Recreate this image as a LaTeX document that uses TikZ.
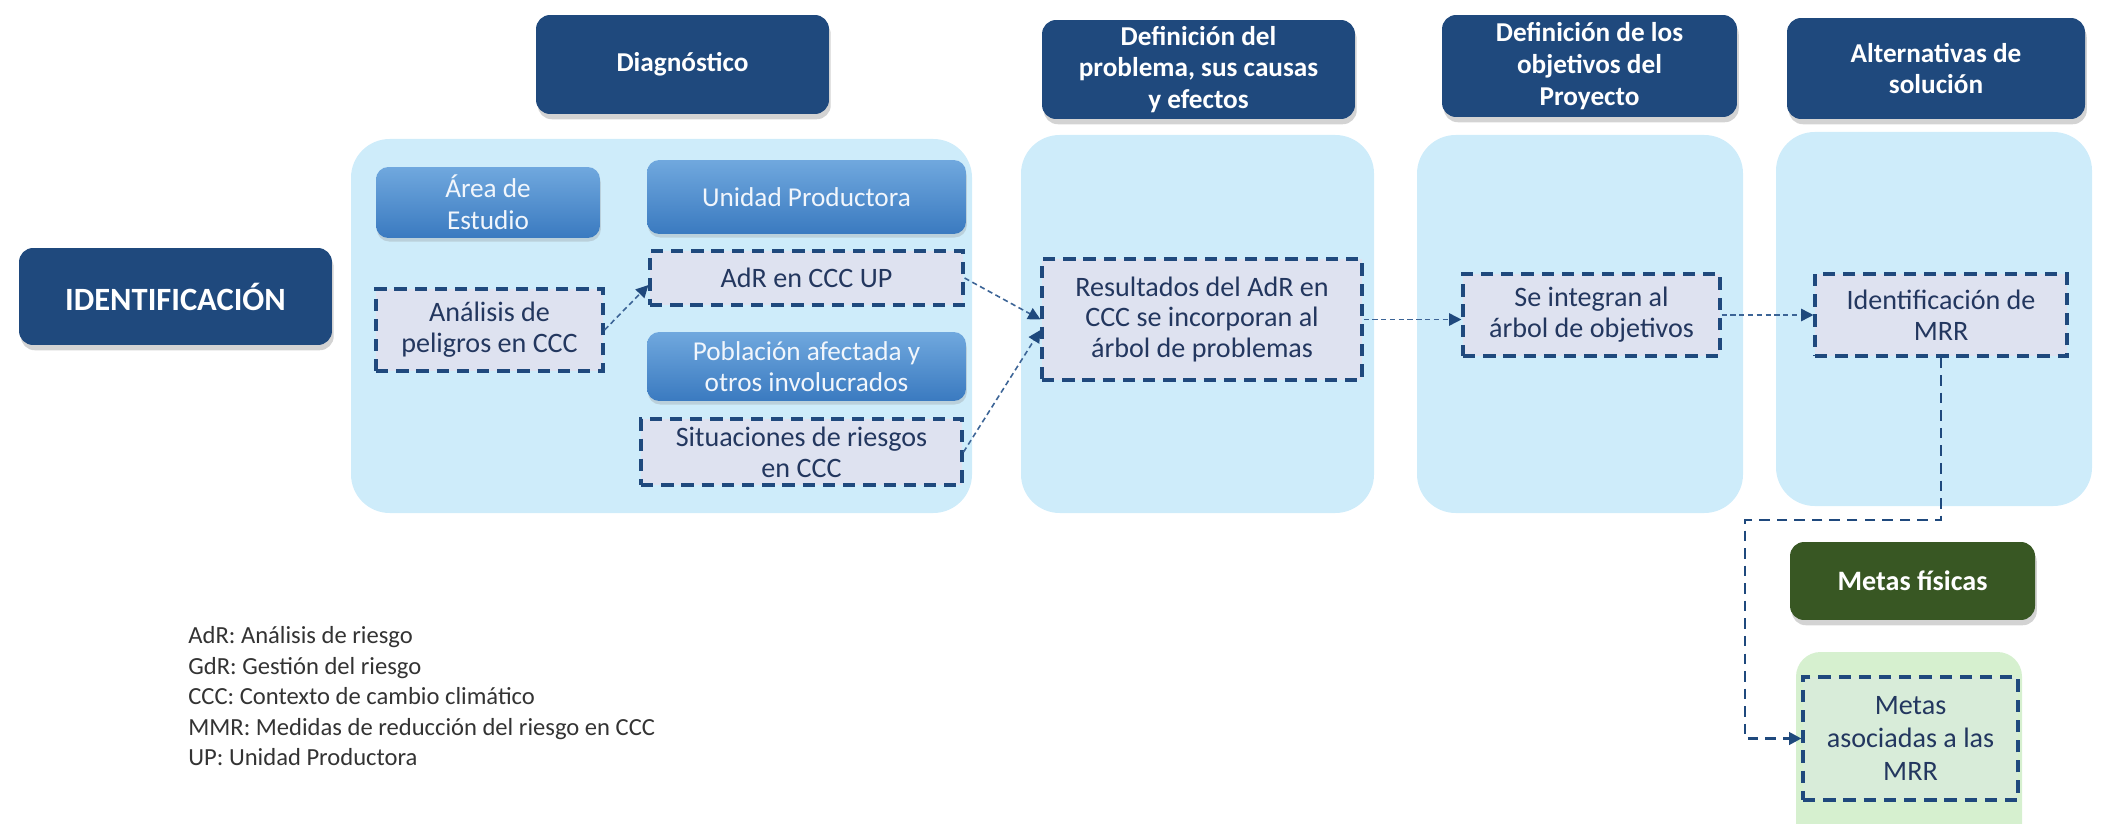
\documentclass[tikz,border=0pt]{standalone}
\usepackage{fontspec}
\setmainfont{Carlito}
\usetikzlibrary{arrows.meta,shadows}

\definecolor{navy}{RGB}{31,73,125}
\definecolor{navytext}{RGB}{35,55,95}
\definecolor{panelblue}{RGB}{206,236,250}
\definecolor{boxtop}{RGB}{112,168,222}
\definecolor{boxbot}{RGB}{58,122,192}
\definecolor{lavender}{RGB}{222,226,240}
\definecolor{linkblue}{RGB}{60,100,150}
\definecolor{darkgreen}{RGB}{56,87,35}
\definecolor{palegreen}{RGB}{214,240,207}

\tikzset{
  header/.style={fill=navy, rounded corners=8pt, text=white, align=center,
    font=\fontsize{15.5}{18}\selectfont\bfseries,
    drop shadow={shadow xshift=1pt, shadow yshift=-3pt, opacity=0.35}},
  unitbox/.style={top color=boxtop, bottom color=boxbot, rounded corners=7pt,
    text=white!90!boxtop, align=center, font=\fontsize{15.5}{18}\selectfont,
    drop shadow={shadow xshift=0.5pt, shadow yshift=-2pt, opacity=0.25}},
  dashbox/.style={draw=navy, fill=lavender, line width=1.8pt, dash pattern=on 7pt off 4.5pt,
    text=navytext, align=center, inner sep=0pt, font=\fontsize{16}{17.5}\selectfont},
  link/.style={draw=linkblue, line width=0.9pt, dash pattern=on 3pt off 2pt,
    -{Triangle[length=7pt,width=7pt,color=navy]}},
  longlink/.style={draw=navy, line width=1.6pt, dash pattern=on 6pt off 4pt,
    -{Triangle[length=7pt,width=7pt,color=navy]}}
}

\begin{document}
\begin{tikzpicture}[x=0.02cm,y=-0.02cm]
			%%%%% START %%%%%
			\useasboundingbox (0,0) rectangle (2101,824);
			\clip (0,0) rectangle (2101,824);
			
			% panels behind
			\fill[panelblue, rounded corners=22pt] (351,139) rectangle (972,513);
			\fill[panelblue, rounded corners=22pt] (1021,135) rectangle (1374,513);
			\fill[panelblue, rounded corners=22pt] (1417,135) rectangle (1743,513);
			\fill[panelblue, rounded corners=22pt] (1776,132) rectangle (2092,506);
			\fill[palegreen, rounded corners=14pt] (1796,652) rectangle (2022,850);
			
			% headers
			\node[header, minimum width=6.26cm, minimum height=1.94cm, font=\fontsize{18.5}{21}\selectfont\bfseries] (ident) at (175.5,296.5) {IDENTIFICACIÓN};
			\node[header, minimum width=5.86cm, minimum height=1.98cm] (diag) at (682.5,64.5) {Diagnóstico};
			\node[header, minimum width=6.26cm, minimum height=1.98cm] (defprob) at (1198.5,69.5) {Definición del\\problema, sus causas\\y efectos};
			\node[header, minimum width=5.90cm, minimum height=2.04cm] (defobj) at (1589.5,66) {Definición de los\\objetivos del\\Proyecto};
			\node[header, minimum width=5.96cm, minimum height=2.02cm] (altsol) at (1936,68.5) {Alternativas de\\solución};
			
			% diagnostico
			\node[unitbox, minimum width=4.48cm, minimum height=1.42cm] (area) at (488,202.5) {Área de\\Estudio};
			\node[unitbox, minimum width=6.38cm, minimum height=1.48cm] (unidad) at (806.5,197) {Unidad Productora};
			\node[unitbox, minimum width=6.38cm, minimum height=1.38cm] (poblacion) at (806.5,366.5) {Población afectada y\\otros involucrados};
			\node[dashbox, minimum width=4.54cm, minimum height=1.64cm] (analisis) at (489.5,330) {Análisis de\\peligros en CCC};
			\node[dashbox, minimum width=6.26cm, minimum height=1.08cm] (adr) at (806.5,278) {AdR en CCC UP};
			\node[dashbox, minimum width=6.42cm, minimum height=1.32cm] (situac) at (801.5,452) {Situaciones de riesgos\\en CCC};
			
			% other steps
			\node[dashbox, minimum width=6.40cm, minimum height=2.42cm] (result) at (1202,319.5) {Resultados del AdR en\\CCC se incorporan al\\árbol de problemas};
			\node[dashbox, minimum width=5.14cm, minimum height=1.64cm] (integ) at (1591.5,315) {Se integran al\\árbol de objetivos};
			\node[dashbox, minimum width=5.04cm, minimum height=1.64cm] (identif) at (1941,315) {Identificación de\\MRR};
			
			% metas
			\node[header, fill=darkgreen, minimum width=4.90cm, minimum height=1.56cm, font=\fontsize{16}{18}\selectfont\bfseries] (metasf) at (1912.5,581) {Metas físicas};
			\node[dashbox, fill=palegreen!70!lavender, minimum width=4.30cm, minimum height=2.46cm, font=\fontsize{16}{19}\selectfont] (metasa) at (1910.5,738.5) {Metas\\asociadas a las\\MRR};
			
			% legend
			\node[anchor=north west, align=left, inner sep=0pt, text=black!80, font=\fontsize{14}{17.4}\selectfont] (legend) at (188,626) {AdR: Análisis de riesgo\\GdR: Gestión del riesgo\\CCC: Contexto de cambio climático\\MMR: Medidas de reducción del riesgo en CCC\\UP: Unidad Productora};
			
			% connectors
			\draw[link] (analisis.east) -- ([yshift=-4pt]adr.west);
			\draw[link] (adr.east) -- (result.west);
			\draw[link] (situac.east) -- ([yshift=-6pt]result.west);
			\draw[link] (result.east) -- (result.east -| integ.west);
			\draw[link] (integ.east) -- (integ.east -| identif.west);
			\coordinate (turn) at (1745,520);
			\draw[longlink] (identif.south) |- (turn) |- (metasa.west);
			%%%%% END %%%%%
\end{tikzpicture}
\end{document}
